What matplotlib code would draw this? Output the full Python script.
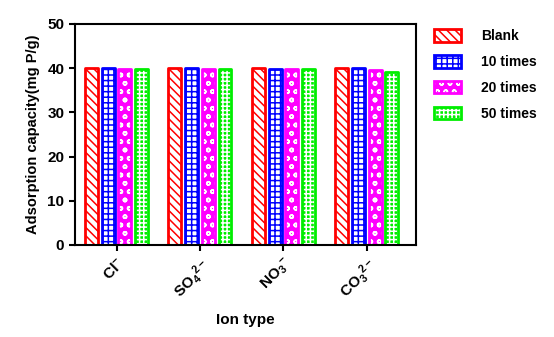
import numpy as np
import matplotlib.pyplot as plt
from matplotlib.patches import Patch

plt.rcParams['font.family'] = 'Liberation Sans'
plt.rcParams['font.weight'] = 'bold'
plt.rcParams['axes.labelweight'] = 'bold'
plt.rcParams['mathtext.fontset'] = 'custom'
plt.rcParams['mathtext.rm'] = 'Liberation Sans:bold'
plt.rcParams['mathtext.bf'] = 'Liberation Sans:bold'
plt.rcParams['mathtext.it'] = 'Liberation Sans:bold'
plt.rcParams['hatch.linewidth'] = 1.1

# Adsorption capacity (mg P/g) in the presence of competing ions
ions = [r'Cl$^{-}$', r'SO$_4$$^{2-}$', r'NO$_3$$^{-}$', r'CO$_3$$^{2-}$']
blank = [40.0, 40.0, 40.0, 40.0]
times_10 = [40.0, 40.0, 39.9, 40.0]
times_20 = [39.8, 39.8, 39.8, 39.6]
times_50 = [39.9, 39.9, 39.9, 39.1]

series = [
    ('Blank', blank, '#ff0000', 'white', '#ff0000', '\\\\\\\\'),
    ('10 times', times_10, '#0000ff', 'white', '#0000ff', '+++'),
    ('20 times', times_20, '#ff00ff', '#ff00ff', 'white', 'oo'),
    ('50 times', times_50, '#00ee00', '#00ee00', 'white', '++++'),
]

fig = plt.figure(figsize=(5.54, 3.37), dpi=100)
ax = fig.add_axes([0.135, 0.273, 0.616, 0.656])

x = np.arange(len(ions))
pitch = 0.2
width = 0.155
handles, labels = [], []
for i, (label, vals, edge, face, hcol, hatch) in enumerate(series):
    pos = x + (i - 1.5) * pitch
    # fill + hatch first, then the coloured outline on top
    ax.bar(pos, vals, width, color=face, edgecolor=hcol, hatch=hatch, linewidth=0)
    ax.bar(pos, vals, width, color='none', edgecolor=edge, linewidth=2,
           joinstyle='round')
    handles.append((Patch(facecolor=face, edgecolor=hcol, hatch=hatch, linewidth=0),
                    Patch(facecolor='none', edgecolor=edge, linewidth=2)))
    labels.append(label)

ax.set_xlim(-0.5, 3.59)
ax.set_ylim(0, 50)
ax.set_yticks([0, 10, 20, 30, 40, 50])
ax.set_xticks(x)
ax.set_xticklabels(ions, rotation=45, ha='right', rotation_mode='anchor',
                   fontsize=11)
ax.tick_params(axis='y', labelsize=11, width=1.5, length=4)
ax.tick_params(axis='x', width=1.5, length=4)
for s in ax.spines.values():
    s.set_linewidth(1.5)

ax.set_ylabel('Adsorption capacity(mg P/g)', fontsize=10.5, labelpad=5)
ax.set_xlabel('Ion type', fontsize=11, labelpad=8)

leg = fig.legend(handles, labels, loc='upper left', bbox_to_anchor=(0.76, 0.95),
                 frameon=False, fontsize=10, handlelength=2.0, handleheight=1.0,
                 labelspacing=0.85, handletextpad=1.4)

fig.savefig('out.png', dpi=100)
